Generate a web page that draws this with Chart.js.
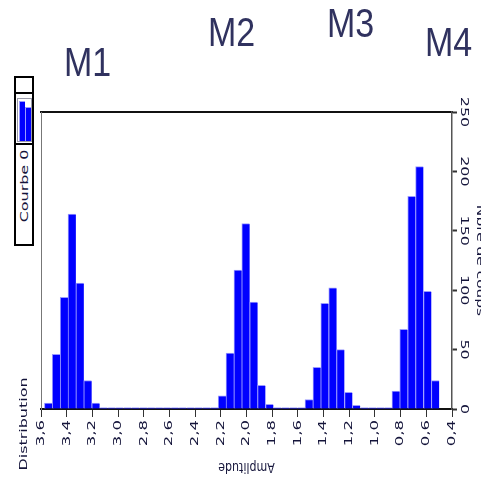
<!DOCTYPE html>
<html>
  <head>
    <meta charset="utf-8">
    <title>Distribution - Courbe 0</title>
    <script src="https://cdn.jsdelivr.net/npm/chart.js@4/dist/chart.umd.min.js"></script>
    <style>
      html, body { margin: 0; padding: 0; background: #fff; overflow: hidden; }
      #wrap { position: relative; width: 481px; height: 478px; overflow: hidden; }
      #chart { position: absolute; left: 0; top: 0; }
      .mark { position: absolute; font-family: "Liberation Sans", Arial, sans-serif; font-size: 34px; line-height: 1;
              color: #30325f; transform: scaleY(1.17); transform-origin: 0 0; white-space: nowrap; }
      #legend { position: absolute; left: 14px; top: 76px; width: 16px; height: 166px; border: 2px solid #000; background: #fff; }
      #legend .top { height: 14px; border-bottom: 2px solid #000; }
      #legend .sw { position: relative; height: 49px; border-bottom: 2px solid #000; }
      #legend .sw .frame { position: absolute; left: 1px; top: 4px; width: 13px; height: 42px; border: 1px solid #9a9aaa; }
      #legend .sw .b { position: absolute; bottom: 0; background: #0000ff; border-left: 1px solid #9a9aff; border-top: 1px solid #9a9aff; }
      #legend .txt { position: absolute; left: 8px; top: 108px; font-family: "DejaVu Sans", sans-serif; font-size: 11px;
                     color: #14143a; white-space: nowrap; transform: translate(-50%, -50%) rotate(-90deg) scaleX(1.45); }
    </style>
  </head>
  <body>
    <div id="wrap">
      <canvas id="chart" width="481" height="478"></canvas>
      <div class="mark" style="left:64px; top:42px;">M1</div>
      <div class="mark" style="left:208px; top:12px;">M2</div>
      <div class="mark" style="left:327px; top:3px;">M3</div>
      <div class="mark" style="left:425px; top:22px;">M4</div>
      <div id="legend">
        <div class="top"></div>
        <div class="sw">
          <div class="frame">
            <div class="b" style="left:1px; width:5px; height:39px;"></div>
            <div class="b" style="left:7px; width:5px; height:33px;"></div>
          </div>
        </div>
        <div class="txt"></div>
      </div>
    </div>
    <script>
      // amplitude bins (centre of each bar)
      var binCentres = [3.543, 3.482, 3.420, 3.359, 3.297, 3.236, 3.174, 3.113, 3.051, 2.990,
                        2.928, 2.867, 2.805, 2.744, 2.682, 2.621, 2.559, 2.498, 2.436, 2.375,
                        2.313, 2.252, 2.190, 2.129, 2.067, 2.006, 1.944, 1.883, 1.821, 1.760,
                        1.698, 1.637, 1.575, 1.514, 1.452, 1.391, 1.329, 1.268, 1.206, 1.145,
                        1.083, 1.022, 0.960, 0.899, 0.837, 0.776, 0.714, 0.653, 0.591, 0.530];
      // Nbre de coups per bin
      var counts = [5, 46, 94, 164, 106, 24, 5, 1, 1, 1,
                    1, 1, 1, 1, 1, 1, 1, 1, 1, 1,
                    1, 1, 11, 47, 117, 156, 90, 20, 4, 1,
                    1, 1, 1, 8, 35, 89, 102, 50, 14, 3,
                    1, 1, 1, 1, 15, 67, 179, 204, 99, 24];
      var xTicks = [3.6, 3.4, 3.2, 3.0, 2.8, 2.6, 2.4, 2.2, 2.0, 1.8, 1.6, 1.4, 1.2, 1.0, 0.8, 0.6, 0.4];
      var yTicks = [0, 50, 100, 150, 200, 250];
      var seriesName = 'Courbe 0';
      var xTitle = 'Amplitude';
      var yTitle = 'Nbre de coups';
      var sideTitle = 'Distribution';

      var textColor = '#14143a';
      var textFont = '11px "DejaVu Sans"';

      function fmt(v){ return v.toFixed(1).replace('.', ','); }

      // rotated + stretched axis texts, placed from the scales
      var axisText = {
        id: 'axisText',
        afterDraw: function(chart){
          var ctx = chart.ctx;
          var xs = chart.scales.x, ys = chart.scales.y;
          ctx.save();
          ctx.fillStyle = textColor;
          ctx.font = textFont;
          ctx.textBaseline = 'middle';
          xs.ticks.forEach(function(t){
            ctx.save();
            ctx.translate(xs.getPixelForValue(t.value), xs.top + 11);
            ctx.rotate(-Math.PI / 2);
            ctx.scale(1.5, 1);
            ctx.textAlign = 'right';
            ctx.fillText(fmt(t.value), 0, 0);
            ctx.restore();
          });
          ys.ticks.forEach(function(t){
            ctx.save();
            ctx.translate(ys.left + 12, ys.getPixelForValue(t.value));
            ctx.rotate(Math.PI / 2);
            ctx.scale(1.45, 1);
            ctx.textAlign = 'center';
            ctx.fillText(String(t.value), 0, 0);
            ctx.restore();
          });
          // y title, partly out of the picture
          ctx.save();
          ctx.translate(ys.left + 28, (ys.top + ys.bottom) / 2);
          ctx.rotate(Math.PI / 2);
          ctx.scale(1.4, 1);
          ctx.textAlign = 'center';
          ctx.fillText(yTitle, 0, 0);
          ctx.restore();
          // x title, upside down
          ctx.save();
          ctx.translate((xs.left + xs.right) / 2, xs.top + 57);
          ctx.rotate(Math.PI);
          ctx.scale(1, 1.2);
          ctx.textAlign = 'center';
          ctx.fillText(xTitle, 0, 0);
          ctx.restore();
          // side title
          ctx.save();
          ctx.translate(xs.left - 17, xs.top + 15);
          ctx.rotate(-Math.PI / 2);
          ctx.scale(1.45, 1);
          ctx.textAlign = 'center';
          ctx.fillText(sideTitle, 0, 0);
          ctx.restore();
          ctx.restore();
        }
      };

      var points = [];
      for (var i = 0; i < binCentres.length; i++) points.push({x: binCentres[i], y: counts[i]});

      var chart = new Chart(document.getElementById('chart'), {
        type: 'bar',
        data: {
          datasets: [{
            label: seriesName,
            data: points,
            backgroundColor: '#0000ff',
            borderColor: '#9a9aff',
            borderWidth: {top: 1, left: 1, right: 0, bottom: 0},
            borderSkipped: false,
            barPercentage: 1,
            categoryPercentage: 1
          }]
        },
        options: {
          responsive: false,
          animation: false,
          events: [],
          layout: {padding: {left: 41, top: 112, right: 0, bottom: 0}, autoPadding: false},
          plugins: {legend: {display: false}, tooltip: {enabled: false}},
          scales: {
            x: {
              type: 'linear', position: 'bottom', reverse: true, min: 0.4, max: 3.6, offset: false,
              afterBuildTicks: function(s){ s.ticks = xTicks.map(function(v){ return {value: v}; }); },
              afterFit: function(s){ s.height = 69; },
              ticks: {display: false},
              grid: {display: true, offset: false, drawOnChartArea: false, drawTicks: true, tickLength: 8, tickColor: '#333', tickWidth: 1},
              border: {display: true, color: '#111', width: 2}
            },
            xTop: {
              type: 'linear', position: 'top', reverse: true, min: 0.4, max: 3.6, offset: false,
              afterFit: function(s){ s.height = 0; },
              ticks: {display: false},
              grid: {display: false},
              border: {display: true, color: '#111', width: 2}
            },
            y: {
              type: 'linear', position: 'right', min: 0, max: 250,
              afterBuildTicks: function(s){ s.ticks = yTicks.map(function(v){ return {value: v}; }); },
              afterFit: function(s){ s.width = 29; },
              ticks: {display: false},
              grid: {display: true, drawOnChartArea: false, drawTicks: true, tickLength: 5, tickColor: '#333', tickWidth: 2},
              border: {display: true, color: '#555', width: 1.5}
            },
            yLeft: {
              type: 'linear', position: 'left', min: 0, max: 250,
              afterFit: function(s){ s.width = 0; },
              ticks: {display: false},
              grid: {display: false},
              border: {display: true, color: '#777', width: 1}
            }
          }
        },
        plugins: [axisText]
      });

      document.querySelector('#legend .txt').textContent = chart.data.datasets[0].label;
    </script>
  </body>
</html>
